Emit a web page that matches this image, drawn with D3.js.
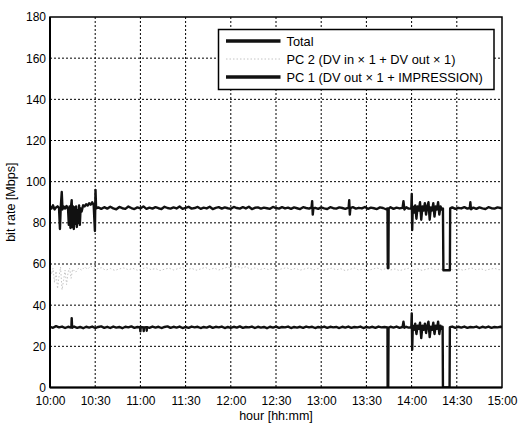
<!DOCTYPE html>
<html>
<head>
<meta charset="utf-8">
<script src="https://cdn.jsdelivr.net/npm/d3@7"></script>
<style>
  body { margin: 0; background: #fff; }
  svg { display: block; font-family: "Liberation Sans", Arial, sans-serif; }
</style>
</head>
<body>
<script>
// minutes after 10:00 -> bit rate [Mbps]
const totalPts = [
  [0,88],[1,87],[2,88.5],[3,86.5],[4,87.5],[5,88],[6,87.2],[6.6,77],[7.1,87],[7.8,95],[8.3,86.5],[9,88],[10,87],[11,88.2],[12,86.5],
  [12.5,79],[13,88],[13.6,77.5],[14.1,89],[14.4,91],[14.8,78],[15.3,88],[15.8,77],[16.3,87.5],[16.8,79.5],[17.3,88],[17.8,78],[18.3,86],[18.8,80],[19.3,88.5],[19.8,79],[20.3,87],[21,85.5],
  [22,88.5],[23,88],[24,89],[25,88.4],[26,89.5],[27,88.8],[28,90],[29,88.6],[29.8,76],[30.2,96],[30.6,87],
  [32,87.5],[34,86.8],[36,87.6],[38,86.9],[40,87.8],[42,87],[44,86.6],[46,87.7],[48,87.1],[50,86.8],[52,87.9],[54,87.2],[56,86.7],[58,87.5],[60,87],
  [62,88],[64,86.8],[66,87.4],[68,86.9],[70,87.6],[72,87.1],[74,86.7],[76,87.8],[78,87.2],[80,86.9],[82,87.5],[84,87],[86,87.9],[88,86.8],[90,87.3],
  [92,87.8],[94,86.9],[96,87.2],[98,87.7],[100,86.8],[102,87.4],[104,87],[106,87.8],[108,86.7],[110,87.3],[112,87.6],[114,86.9],[116,87.5],[118,87.1],[120,86.8],
  [122,87.7],[124,87.2],[126,86.9],[128,87.6],[130,87],[132,87.8],[134,86.7],[136,87.3],[138,87.5],[140,86.9],[142,87.4],[144,87.1],[146,86.8],[148,87.7],[150,87.2],
  [152,86.9],[154,87.6],[156,87],[158,87.4],[160,86.8],[162,87.5],[164,87.1],[166,86.7],[168,87.6],[170,87.2],[172,86.9],[173.6,87.5],[174,90.5],[174.4,84],[174.8,87],
  [176,87.3],[178,86.8],[180,87.5],[182,87],[184,86.7],[186,87.6],[188,87.1],[190,86.9],[192,87.5],[194,87.2],[196,86.8],[198.2,87.4],[198.6,91],[199,84],[199.4,87.2],
  [201,87.6],[203,86.9],[205,87.3],[207,87],[209,87.7],[211,86.8],[213,87.4],[215,87.1],[217,86.7],[219,87.5],[221,87.2],[223,86.6],[224,87],
  [224.2,58],[224.6,58],[224.8,87],[226,87.6],[228,86.8],[230,87.4],[232,87],[234,87.3],[234.6,90.5],[235.2,86.5],[236.5,87.6],[238,86.9],[239.8,87],
  [240.1,94],[240.4,76.5],[240.8,88],[241.6,85],[242.4,88.5],[243.2,82],[244,88],[244.8,86],[245.6,90],[246.4,81.5],[247.2,88],[248,86],[248.8,89.5],[249.6,84],
  [250.4,88],[251.2,90],[252,81.5],[252.8,87.5],[253.6,86],[254.4,89.5],[255.2,83],[256,88],[256.8,86.5],[257.6,90],[258.4,84],[259.2,88],[260,86.5],[260.8,87],
  [261.1,57],[265.4,57],[265.6,87],[267,87.5],[269,86.8],[271,87.3],[273,87],[275,87.6],[277,86.9],[278.6,87.2],[279,90],[279.4,86.6],
  [281,87.4],[283,86.8],[285,87.5],[287,87],[289,86.7],[291,87.6],[293,87.1],[295,86.9],[297,87.5],[299,87.2],[300,87]
];

const pc2Pts = [
  [0,57.5],[1,55],[2,58],[3,51],[4,56.5],[5,48],[6,54],[7,58.5],[8,47.5],[9,52],[10,57],[11,50],[12,56],[13,58],[14,53],[15,57.5],
  [17,56],[19,58],[21,57],[23,58.5],[25,57.5],[27,59],[29,58],[31,57.5],[34,58.2],[37,57],[40,57.8],[43,56.9],[46,57.6],[49,58.1],
  [52,57.2],[55,57.9],[58,57],[61,57.7],[64,58.2],[67,57.3],[70,57.8],[73,56.8],[76,57.5],[79,58],[82,57.1],[85,57.7],[88,58.3],
  [91,57.2],[94,57.9],[97,57],[100,57.6],[103,58.4],[106,57.3],[109,58],[112,57.1],[115,57.8],[118,58.5],[121,57.6],[124,59],
  [127,58],[130,58.7],[133,57.4],[136,58.1],[139,57.2],[142,57.9],[145,57.3],[148,58],[151,57.1],[154,57.7],[157,58.2],[160,57.3],
  [163,57.9],[166,57],[169,57.6],[172,58.1],[175,57.2],[178,57.8],[181,56.9],[184,57.5],[187,58],[190,57.2],[193,57.7],[196,56.8],
  [199,57.4],[202,58],[205,57.1],[208,57.6],[211,56.9],[214,57.5],[217,58.1],[220,57.2],[223,57.7],[226,57.1],[229,57.6],[232,56.8],
  [235,57.4],[238,57.9],[241,57],[244,57.6],[247,56.9],[250,57.5],[253,58],[256,57.2],[259,57.6],[262,57],[265,57.5],[268,57.1],
  [271,57.7],[274,57],[277,57.5],[280,58],[283,57.2],[286,57.7],[289,56.9],[292,57.5],[295,57.9],[298,57.2],[300,57.5]
];

const pc1Pts = [
  [0,29.5],[2,29],[4,29.8],[6,29.2],[8,29.6],[10,28.9],[12,29.5],[14,29.1],[14.2,29.5],[14.4,33.7],[14.7,29],[16,29.6],[18,29],[20,29.4],
  [22,28.8],[24,29.5],[26,29.1],[28,29.6],[30,28.9],[32,29.4],[34,29.7],[36,29],[38,29.5],[40,28.9],[42,29.6],[44,29.1],[46,29.4],
  [48,28.8],[50,29.5],[52,29.2],[54,29.7],[56,29],[58,29.4],[59,29.3],[59.8,29.2],[60,27.3],[60.2,29.4],[62,29.2],[62.2,27.4],[62.4,29.2],[64,29.3],[64.2,27.6],[64.4,29.3],
  [66,29],[68,29.6],[70,29.1],[72,29.5],[74,28.9],[76,29.4],[78,29.7],[80,29],[82,29.5],[84,29.1],[86,29.6],[88,28.9],[90,29.4],
  [92,29],[94,29.6],[96,29.2],[98,29.5],[100,28.9],[102,29.4],[104,29.1],[106,29.7],[108,29],[110,29.5],[112,29.2],[114,29.6],
  [116,28.9],[118,29.4],[120,29],[122,29.5],[124,29.1],[126,29.7],[128,29],[130,29.4],[132,29.2],[134,29.6],[136,28.9],[138,29.5],
  [140,29.1],[142,29.4],[144,28.8],[146,29.5],[148,29.1],[150,29.6],[152,29],[154,29.4],[156,29.2],[158,29.6],[160,28.9],[162,29.4],
  [164,29.1],[166,29.5],[168,29],[170,29.6],[172,29.2],[174,29.5],[176,28.9],[178,29.4],[180,29.1],[182,29.6],[184,29],[186,29.5],
  [188,29.2],[190,29.4],[192,28.9],[194,29.5],[196,29.1],[198,29.6],[200,29],[202,29.4],[204,29.2],[206,29.6],[208,28.9],[210,29.4],
  [212,29.1],[214,29.5],[216,29],[218,29.6],[220,29.2],[222,29.4],[224,29.2],
  [224.1,0],[224.5,0],[224.7,29],[226,29.5],[228,29.1],[230,29.6],[232,29],[234,29.4],[234.6,32],[235.2,29],[236.5,29.5],[238,29.1],[239.8,29.3],
  [240.1,36],[240.4,18.3],[240.8,30],[241.6,28],[242.4,31],[243.2,26],[244,30],[244.8,28.5],[245.6,31.5],[246.4,24],[247.2,30],[248,28],
  [248.8,31],[249.6,26.5],[250.4,30],[251.2,32],[252,24.5],[252.8,29.5],[253.6,28],[254.4,31.5],[255.2,26],[256,30],[256.8,28.5],
  [257.6,32],[258.4,26],[259.2,30],[260,28.5],[260.6,29.5],
  [260.8,0],[265.2,0],[265.4,29.3],[267,29.6],[269,29],[271,29.5],[273,29.1],[275,29.6],[277,29],[279,29.4],[281,29.2],[283,29.6],
  [285,28.9],[287,29.5],[289,29.1],[291,29.6],[293,29],[295,29.4],[297,29.2],[299,29.5],[300,29.3]
];

const xTickMinutes = [0, 30, 60, 90, 120, 150, 180, 210, 240, 270, 300];
const xTickLabels = ["10:00", "10:30", "11:00", "11:30", "12:00", "12:30", "13:00", "13:30", "14:00", "14:30", "15:00"];
const yTicks = [0, 20, 40, 60, 80, 100, 120, 140, 160, 180];
const legendLabels = ["Total", "PC 2 (DV in × 1 + DV out × 1)", "PC 1 (DV out × 1 + IMPRESSION)"];

const W = 519, H = 424;
const margin = { top: 17, right: 17, bottom: 36.5, left: 50 };
const width = W - margin.left - margin.right;
const height = H - margin.top - margin.bottom;

const svg = d3.select("body").append("svg")
  .attr("width", W)
  .attr("height", H);

const g = svg.append("g")
  .attr("transform", `translate(${margin.left},${margin.top})`);

const x = d3.scaleLinear().domain([0, 300]).range([0, width]);
const y = d3.scaleLinear().domain([0, 180]).range([height, 0]);

// grid
g.append("g")
  .selectAll("line")
  .data(xTickMinutes.slice(1, -1))
  .join("line")
  .attr("x1", d => x(d)).attr("x2", d => x(d))
  .attr("y1", 0).attr("y2", height)
  .attr("stroke", "#000")
  .attr("stroke-width", 1)
  .attr("stroke-dasharray", "2,2");

g.append("g")
  .selectAll("line")
  .data(yTicks.slice(1, -1))
  .join("line")
  .attr("x1", 0).attr("x2", width)
  .attr("y1", d => y(d)).attr("y2", d => y(d))
  .attr("stroke", "#000")
  .attr("stroke-width", 1)
  .attr("stroke-dasharray", "2,2");

// axes
const xAxis = d3.axisBottom(x)
  .tickValues(xTickMinutes)
  .tickFormat((d, i) => xTickLabels[i])
  .tickSize(0)
  .tickPadding(9);

const yAxis = d3.axisLeft(y)
  .tickValues(yTicks)
  .tickSize(0)
  .tickPadding(4);

g.append("g")
  .attr("transform", `translate(0,${height})`)
  .call(xAxis)
  .call(a => a.select(".domain").remove())
  .selectAll("text")
  .attr("font-size", 12)
  .attr("fill", "#000")
  .attr("font-family", "'Liberation Sans', Arial, sans-serif");

g.append("g")
  .call(yAxis)
  .call(a => a.select(".domain").remove())
  .selectAll("text")
  .attr("font-size", 12)
  .attr("fill", "#000")
  .attr("font-family", "'Liberation Sans', Arial, sans-serif");

// data lines
g.append("clipPath").attr("id", "clip")
  .append("rect").attr("width", width).attr("height", height);

const line = d3.line()
  .x(d => x(d[0]))
  .y(d => y(d[1]));

const plot = g.append("g").attr("clip-path", "url(#clip)");

plot.append("path")
  .datum(pc2Pts)
  .attr("fill", "none")
  .attr("stroke", "#c4c4c4")
  .attr("stroke-width", 1)
  .attr("stroke-dasharray", "1.5,2")
  .attr("d", line);

plot.append("path")
  .datum(pc1Pts)
  .attr("fill", "none")
  .attr("stroke", "#111")
  .attr("stroke-width", 2.4)
  .attr("stroke-linejoin", "round")
  .attr("d", line);

plot.append("path")
  .datum(totalPts)
  .attr("fill", "none")
  .attr("stroke", "#111")
  .attr("stroke-width", 2.4)
  .attr("stroke-linejoin", "round")
  .attr("d", line);

// frame
g.append("rect")
  .attr("width", width)
  .attr("height", height)
  .attr("fill", "none")
  .attr("stroke", "#000")
  .attr("stroke-width", 1.5);

g.append("line")
  .attr("x1", 0).attr("x2", 0).attr("y1", 0).attr("y2", height)
  .attr("stroke", "#000").attr("stroke-width", 2);
g.append("line")
  .attr("x1", 0).attr("x2", width).attr("y1", height).attr("y2", height)
  .attr("stroke", "#000").attr("stroke-width", 2);

// axis titles
svg.append("text")
  .attr("x", margin.left + width / 2)
  .attr("y", 420)
  .attr("text-anchor", "middle")
  .attr("font-size", 12.5)
  .text("hour [hh:mm]");

svg.append("text")
  .attr("transform", `translate(15,${margin.top + height / 2}) rotate(-90)`)
  .attr("text-anchor", "middle")
  .attr("font-size", 12.5)
  .text("bit rate [Mbps]");

// legend
const legend = svg.append("g").attr("transform", "translate(218.5,29.5)");

legend.append("rect")
  .attr("width", 275.5)
  .attr("height", 60)
  .attr("fill", "#fff")
  .attr("stroke", "#000")
  .attr("stroke-width", 1.5);

const legendStyles = [
  { stroke: "#111", width: 3.5, dash: null },
  { stroke: "#c4c4c4", width: 1, dash: "1.5,2" },
  { stroke: "#111", width: 3.5, dash: null }
];

const items = legend.selectAll("g.item")
  .data(legendLabels)
  .join("g")
  .attr("class", "item")
  .attr("transform", (d, i) => `translate(0,${11.5 + i * 18})`);

items.append("line")
  .attr("x1", 7.5).attr("x2", 62)
  .attr("stroke", (d, i) => legendStyles[i].stroke)
  .attr("stroke-width", (d, i) => legendStyles[i].width)
  .attr("stroke-dasharray", (d, i) => legendStyles[i].dash);

items.append("text")
  .attr("x", 68)
  .attr("dy", "0.36em")
  .attr("font-size", 12.8)
  .text(d => d);
</script>
</body>
</html>
